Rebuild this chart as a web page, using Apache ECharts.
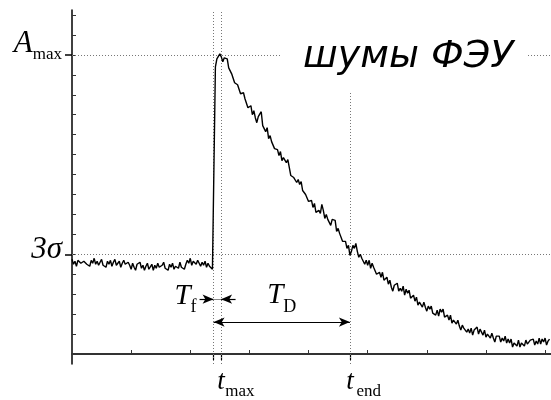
<!DOCTYPE html>
<html>
<head>
<meta charset="utf-8">
<script src="https://cdn.jsdelivr.net/npm/echarts@6/dist/echarts.min.js"></script>
<style>
  html, body { margin: 0; padding: 0; background: #fff; }
  #chart { width: 551px; height: 400px; }
</style>
</head>
<body>
<div id="chart"></div>
<script>
// Time between two recorded samples (time units)
const sampleStep = 1 / 40;

// Recorded PMT output, one value per sample (arbitrary units)
const signal = [
  // noise before the pulse
  95, 90, 93, 88, 94, 96, 91, 89, 93, 95, 90, 92, 88, 94, 91, 96, 90, 93, 89,
  92, 95, 89, 91, 87, 93, 90, 94, 88, 92, 95, 89, 90, 93, 87, 91, 94, 90, 88, 92,
  89, 85, 91, 87, 84, 90, 88, 92, 86, 89, 84, 88, 91, 85, 87, 90, 84, 89, 86, 91, 87,
  85, 89, 92, 86, 88, 84, 90, 87, 91, 85, 88, 90, 86, 92, 87, 89, 85,
  90, 94, 91, 96, 89, 93, 95, 90, 94, 92,
  88, 92, 89, 93, 87, 91, 88, 90, 85, 86,
  // leading edge and peak
  288, 296, 294, 301, 298, 293, 297, 296, 296, 287, 288,
  // decay
  281, 283, 272, 274, 270, 272, 261, 262, 262, 256, 258, 247, 249,
  249, 240, 244, 237, 232, 238, 238, 243, 229, 229, 223, 227, 216, 219, 213, 215, 206, 206, 205, 199, 203, 194, 197,
  198, 192, 195, 187, 179, 181, 177, 179, 172, 175, 170, 173, 164, 166, 160, 162, 153, 155, 154, 147, 151, 142, 143,
  144, 141, 150, 144, 136, 140, 135, 136, 129, 135, 133, 134, 123, 126, 121, 123, 113, 114, 113, 106, 109, 99, 103,
  109, 106, 111, 103, 97, 100, 96, 97, 90, 94, 89, 94, 86, 91, 87, 89, 80, 82, 82, 77, 82, 74, 76,
  77, 70, 74, 67, 63, 69, 67, 71, 63, 66, 63, 68, 59, 65, 61, 64, 56, 58, 59, 53, 57, 49, 52,
  53, 47, 52, 47, 43, 48, 45, 48, 41, 43, 39, 44, 38, 45, 42, 45, 37, 38, 39, 34, 39, 31, 34,
  36, 30, 34, 28, 24, 29, 26, 28, 22, 25, 21, 26, 19, 24, 22, 27, 20, 25, 25, 19, 24, 17, 20,
  21, 16, 21, 16, 12, 18, 16, 18, 12, 16, 13, 18, 11, 15, 11, 15, 7, 11, 13, 8, 14, 7, 11,
  13, 8, 14, 10, 8, 14, 12, 15, 9, 13, 10, 16, 10, 15, 12, 16, 9, 13, 15
];

// Characteristic moments of the pulse
const tRise = 2.394;   // leading edge starts
const tMax = 2.521;    // amplitude reached
const tEnd = 4.70;     // signal falls back to the 3σ level

// Characteristic levels
const levelMax = 300;   // A_max
const levelNoise = 100; // 3σ

// Axis ranges and ticks
const timeRange = [0, 8.1];
const levelRange = [-10, 345];
const timeTicks = [1, 2, 3, 4, 5, 6, 7, 8];
const levelTicks = [0, 20, 40, 60, 80, 100, 120, 140, 160, 180, 200, 220, 240, 260, 280, 300, 320, 340];

// Marked moments / levels and their labels
const timeMarks = [tRise, tMax, tEnd];
const timeMarkLabels = { [tMax]: '{sp|}{t|t}{s|max}', [tEnd]: '{sp|}{t|t}{s|end}' };
const levelMarks = [levelNoise, levelMax];
const levelMarkLabels = { [levelNoise]: '{n|3σ}', [levelMax]: '{a|A}{s|max}' };

// Heights of the duration arrows and the tails of the rise-time arrows
const fallArrowLevel = 55;
const decayArrowLevel = 32;
const riseArrowTails = [2.157, 2.766];

const serif = '"Liberation Serif", "Times New Roman", serif';
const ink = '#000';
const dotted = { color: '#777', width: 1, type: [1, 2] };

const trace = signal.map((v, i) => [i * sampleStep, v]);

const durationRich = {
  T: { fontFamily: serif, fontStyle: 'italic', fontSize: 29, color: '#000', verticalAlign: 'bottom', padding: [0, 0, 6, 0] },
  s: { fontFamily: serif, fontSize: 18, color: '#000', verticalAlign: 'bottom' }
};

const chart = echarts.init(document.getElementById('chart'), null, { renderer: 'canvas' });

chart.setOption({
  animation: false,
  backgroundColor: '#fff',
  title: {
    text: 'шумы ФЭУ',
    left: 281,
    top: 0,
    padding: [38, 14, 17, 22],
    backgroundColor: '#fff',
    textStyle: {
      fontFamily: '"DejaVu Sans", sans-serif',
      fontStyle: 'italic',
      fontWeight: 'normal',
      fontSize: 38,
      lineHeight: 38,
      color: '#000'
    }
  },
  grid: { left: 72, right: 0, top: 10, bottom: 35, containLabel: false },
  xAxis: [
    {
      type: 'value', min: timeRange[0], max: timeRange[1], position: 'bottom',
      splitLine: { show: false },
      axisLine: { show: true, lineStyle: { color: '#333', width: 2 } },
      axisTick: { show: true, inside: true, length: 4, customValues: timeTicks, lineStyle: { color: '#333', width: 1 } },
      axisLabel: { show: false }
    },
    {
      type: 'value', min: timeRange[0], max: timeRange[1], position: 'bottom',
      splitLine: { show: false },
      axisLine: { show: false },
      axisTick: { show: true, inside: false, length: 6, customValues: timeMarks, lineStyle: { color: '#000', width: 1.2 } },
      axisLabel: {
        show: true, customValues: [tMax, tEnd], margin: 4,
        formatter: v => timeMarkLabels[v] || '',
        rich: {
          sp: { width: 30 },
          t: { fontFamily: serif, fontStyle: 'italic', fontSize: 27, color: '#000', verticalAlign: 'top' },
          s: { fontFamily: serif, fontSize: 17, color: '#000', width: 30, align: 'left', verticalAlign: 'top', padding: [15, 0, 0, 0] }
        }
      }
    }
  ],
  yAxis: [
    {
      type: 'value', min: levelRange[0], max: levelRange[1], position: 'left',
      splitLine: { show: false },
      axisLine: { show: true, lineStyle: { color: '#000', width: 1.5 } },
      axisTick: { show: true, inside: true, length: 4, customValues: levelTicks, lineStyle: { color: '#333', width: 1 } },
      axisLabel: { show: false }
    },
    {
      type: 'value', min: levelRange[0], max: levelRange[1], position: 'left',
      splitLine: { show: false },
      axisLine: { show: false },
      axisTick: { show: true, inside: false, length: 7, customValues: levelMarks, lineStyle: { color: '#000', width: 1.5 } },
      axisLabel: {
        show: true, customValues: levelMarks, margin: 10,
        formatter: v => levelMarkLabels[v] || '',
        rich: {
          n: { fontFamily: serif, fontStyle: 'italic', fontSize: 31, color: '#000', padding: [0, 0, 8, 0] },
          a: { fontFamily: serif, fontStyle: 'italic', fontSize: 31, color: '#000', verticalAlign: 'bottom', padding: [0, 0, 22, 0] },
          s: { fontFamily: serif, fontSize: 17, color: '#000', verticalAlign: 'bottom', padding: [0, 0, 18, 0] }
        }
      }
    }
  ],
  series: [
    {
      name: 'trace',
      type: 'line',
      data: trace,
      showSymbol: false,
      symbol: 'none',
      lineStyle: { color: ink, width: 1.4 },
      z: 5
    },
    {
      name: 'guides',
      type: 'line',
      data: [],
      markLine: {
        silent: true,
        symbol: 'none',
        label: { show: false },
        lineStyle: dotted,
        data: [
          { xAxis: tRise },
          { xAxis: tMax },
          { xAxis: tEnd },
          { yAxis: levelMax },
          { yAxis: levelNoise }
        ]
      }
    },
    {
      name: 'durations',
      type: 'line',
      data: [],
      markLine: {
        silent: true,
        symbolSize: [7, 11],
        lineStyle: { color: '#000', width: 1.2, type: 'solid' },
        label: { show: false },
        data: [
          [
            { coord: [riseArrowTails[0], fallArrowLevel], symbol: 'none',
              label: { show: true, position: 'start', distance: 3, formatter: '{T|T}{s|f}', rich: durationRich } },
            { coord: [tRise, fallArrowLevel], symbol: 'arrow' }
          ],
          [
            { coord: [riseArrowTails[1], fallArrowLevel], symbol: 'none' },
            { coord: [tMax, fallArrowLevel], symbol: 'arrow' }
          ],
          [
            { coord: [tRise, fallArrowLevel], symbol: 'none', lineStyle: { color: '#888', width: 1 } },
            { coord: [tMax, fallArrowLevel], symbol: 'none' }
          ],
          [
            { coord: [tRise, decayArrowLevel], symbol: 'arrow',
              label: { show: true, position: 'middle', distance: 6, formatter: '{T|T}{s|D}', rich: durationRich } },
            { coord: [tEnd, decayArrowLevel], symbol: 'arrow' }
          ]
        ]
      }
    }
  ]
});
</script>
</body>
</html>
